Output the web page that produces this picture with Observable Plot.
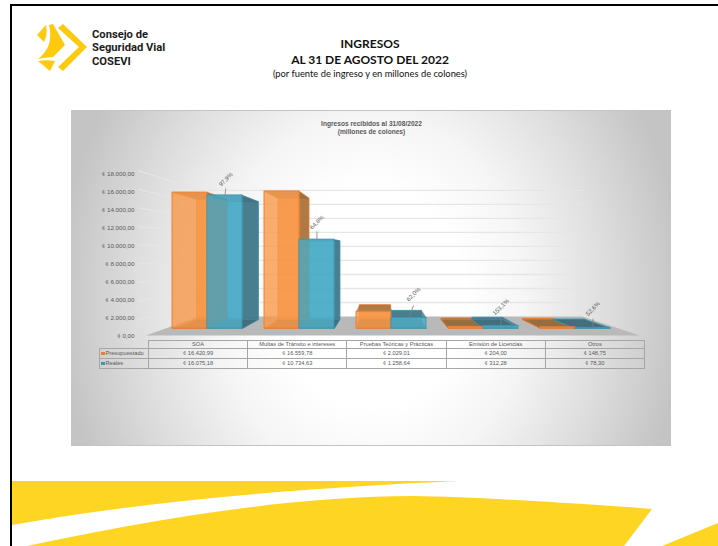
<!DOCTYPE html>
<html lang="es">
<head>
<meta charset="utf-8">
<script src="https://cdn.jsdelivr.net/npm/d3@7"></script>
<script src="https://cdn.jsdelivr.net/npm/@observablehq/plot@0.6"></script>
<style>
html,body{margin:0;padding:0;background:#fff;overflow:hidden}
#page{position:relative;width:718px;height:546px;overflow:hidden;background:#fff}
.abs{position:absolute}
#frameTop{left:10px;top:4px;width:708px;height:2px;background:#000}
#frameLeft{left:10px;top:4px;width:2px;height:542px;background:#000}
#heading{left:170px;width:400px;top:36px;text-align:center;font-family:Lato,"Open Sans",sans-serif;color:#111}
#heading div{position:absolute;left:0;width:400px;white-space:nowrap}
#logoText{left:92px;top:27.5px;font:bold 11.2px/13.5px "Liberation Sans Narrow","Roboto",sans-serif;color:#1c1c1c;white-space:nowrap}
#panel{left:71px;top:110px;width:600px;height:336px;border-top:1px solid #c4c4c4;border-bottom:1px solid #c4c4c4;box-sizing:border-box;
background:radial-gradient(ellipse 52% 110% at 50% 56%,#fff 0%,#fff 30%,#f5f5f5 50%,#dedede 75%,#c4c4c4 100%)}
#chart{left:71px;top:110px;width:600px;height:336px;opacity:.995}
#tbl{left:99px;top:340px;border-collapse:collapse;table-layout:fixed;font:5.7px "Liberation Sans",Arial,sans-serif;color:#595959;opacity:.995}
#tbl td{border:1px solid #a6a6a6;padding:0;text-align:center;box-sizing:border-box;height:10px;white-space:nowrap;overflow:hidden}
#tbl tr:first-child td{height:7.5px}
#tbl td.blank{border:none}
#tbl td.lab{text-align:left;padding-left:1px}
#tbl .key{display:inline-block;width:3.5px;height:3.5px;margin-right:1px;vertical-align:0}
</style>
</head>
<body>
<div id="page">
  <svg class="abs" style="left:0;top:0" width="718" height="546" id="deco">
    <path fill="#FFD524" d="M12 481 L458 481 C330 487 170 497 12 525 Z"/>
    <path fill="#FFD524" d="M27 546 C150 520 290 496 412 496 C480 497 570 503 652 509 L624 546 Z"/>
    <path fill="#FFD524" d="M662 546 L718 523 L718 546 Z"/>
    <path fill="#FFC90E" d="M63 24 L87 47 L63 71 L58 67 L79 47 L58 28 Z"/>
    <path fill="#FFC90E" d="M46 25 L37 35 L44 42 C47 36 47 30 46 25 Z"/>
    <path fill="#FFC90E" d="M49 25 L53 24 L65 45 L53 57 C48 57 43 58 38 59 C47 52 53 42 49 25 Z"/>
    <path fill="#FFC90E" d="M38 61 C44 60 50 60 55 61 L50 71 Z"/>
  </svg>
  <div class="abs" id="frameTop"></div>
  <div class="abs" id="frameLeft"></div>
  <div class="abs" id="logoText">Consejo de<br>Seguridad Vial<br>COSEVI</div>
  <div class="abs" id="heading">
    <div style="top:0;font-weight:700;font-size:12px">INGRESOS</div>
    <div style="top:15.5px;font-weight:700;font-size:12px">AL 31 DE AGOSTO DEL 2022</div>
    <div style="top:31.5px;font-size:9.35px">(por fuente de ingreso y en millones de colones)</div>
  </div>
  <div class="abs" id="panel"></div>
  <div class="abs" id="chart"></div>
  <table class="abs" id="tbl"></table>
</div>
<script>
// ---- data ----
const categories = ["SOA", "Multas de Tránsito e intereses", "Pruebas Teóricas y Prácticas", "Emisión de Licencias", "Otros"];
const presupuestado = [16420.99, 16559.78, 2029.01, 204.00, 148.75];
const reales = [16075.18, 10734.63, 1258.64, 312.28, 78.30];
const porcentajes = ["97,9%", "64,8%", "62,0%", "153,1%", "52,6%"];
const axisTicks = [0, 2000, 4000, 6000, 8000, 10000, 12000, 14000, 16000, 18000];
const seriesNames = ["Presupuestado", "Reales"];
const chartTitle = ["Ingresos recibidos al 31/08/2022", "(millones de colones)"];

const locale = d3.formatLocale({decimal: ",", thousands: ".", grouping: [3], currency: ["", ""]});
const money = v => "¢ " + locale.format(",.2f")(v);

// ---- styling ----
const FONT = '"Liberation Sans", Arial, sans-serif';
const styles = [
  {front: "#f79646", side: "#936736", stroke: "#ed7d31"},
  {front: "#4bacc6", side: "#3c6776", stroke: "#3a97b2"}
];

// ---- simple perspective: data-space points shrink toward a vanishing point ----
const VAN_X = 2.283, VAN_Y = 9417;
const at = (u, v, d) => ({x: u + d * (VAN_X - u), y: v + d * (VAN_Y - v)});
const BAR_DEPTH = 0.114, WALL = 0.154, FLOOR_FRONT = -0.09;
const LEFT = -0.076, RIGHT = 4.85, BAR_W = 0.38;

// faces
const bars = [];
seriesNames.forEach((name, s) => {
  (s === 0 ? presupuestado : reales).forEach((value, i) => {
    bars.push({i, s, value, u1: i + s * BAR_W, u2: i + (s + 1) * BAR_W});
  });
});
const quad = (pts, key) => [...pts, pts[0]].map(p => ({...p, key}));
function facesOf(b) {
  const {u1, u2, value: v} = b, D = BAR_DEPTH, k = `${b.i}-${b.s}`;
  const back = quad([at(u1,0,D), at(u2,0,D), at(u2,v,D), at(u1,v,D)], k + "b");
  const sides = [];
  sides.push(quad([at(u1,v,0), at(u2,v,0), at(u2,v,D), at(u1,v,D)], k + "t"));
  if (u2 < VAN_X) sides.push(quad([at(u2,0,0), at(u2,v,0), at(u2,v,D), at(u2,0,D)], k + "r"));
  if (u1 > VAN_X) sides.push(quad([at(u1,0,0), at(u1,v,0), at(u1,v,D), at(u1,0,D)], k + "l"));
  sides.push(quad([at(u1,0,0), at(u2,0,0), at(u2,0,D), at(u1,0,D)], k + "f"));
  return {back, sides};
}

const floor = quad([at(LEFT,0,FLOOR_FRONT), at(RIGHT,0,FLOOR_FRONT), at(RIGHT,0,WALL), at(LEFT,0,WALL)], "floor");
const gridRows = axisTicks.filter(t => t > 0).flatMap(t => [
  {...at(LEFT, t, FLOOR_FRONT - 0.035), key: t},
  {...at(LEFT, t, WALL), key: t},
  {...at(RIGHT, t, WALL), key: t}
]);

const marks = [
  Plot.line(gridRows, {x: "x", y: "y", z: "key", stroke: "#e6e6e6", strokeWidth: 1.3, curve: "linear"}),
  Plot.line(floor, {x: "x", y: "y", fill: "#b9b9b9", stroke: "none", curve: "linear"})
];

// each bar: back and depth faces, then the front face
bars.forEach(b => {
  const st = styles[b.s], f = facesOf(b);
  marks.push(Plot.line(f.back, {x: "x", y: "y", fill: st.front, fillOpacity: 0.8, stroke: st.stroke, strokeWidth: 0.8, strokeOpacity: 0.7, curve: "linear"}));
  f.sides.forEach(q => marks.push(
    Plot.line(q, {x: "x", y: "y", fill: st.side, fillOpacity: 0.72, stroke: st.stroke, strokeWidth: 0.8, strokeOpacity: 0.7, curve: "linear"})
  ));
});
styles.forEach((st, s) => {
  marks.push(Plot.rect(bars.filter(b => b.s === s), {
    x1: "u1", x2: "u2", y1: () => 0, y2: "value",
    fill: st.front, fillOpacity: 0.78, stroke: st.stroke, strokeWidth: 1, strokeOpacity: 0.95
  }));
});

// data labels above the "Reales" bars, with a leader line
const lift = [850, 1000, 1550, 950, 1100];
const labelLift = [970, 1120, 1910, 1310, 1340];
const lean = [0.01, 0, 0.05, 0, 0];
const realBars = bars.filter(b => b.s === 1);
const mid = b => (b.u1 + b.u2) / 2;
marks.push(
  Plot.link(realBars, {
    x1: mid, y1: "value",
    x2: b => mid(b) + lean[b.i], y2: b => b.value + lift[b.i],
    stroke: "#7f7f7f", strokeWidth: 0.8
  }),
  Plot.text(realBars, {
    x: b => mid(b) + lean[b.i], y: b => b.value + labelLift[b.i],
    text: b => porcentajes[b.i], rotate: -45, dy: -8,
    fontSize: 6, fontFamily: FONT, fill: "#595959"
  }),
  // value axis, on the front edge of the left wall
  Plot.text(axisTicks, {
    x: t => at(LEFT, t, FLOOR_FRONT).x, y: t => at(LEFT, t, FLOOR_FRONT).y,
    text: t => money(t), textAnchor: "end", dx: -11.5, dy: 0.5,
    fontSize: 6.2, fontFamily: FONT, fill: "#595959"
  }),
  // chart title
  Plot.text([chartTitle.join("\n")], {
    frameAnchor: "top", dy: 9.5, text: d => d, lineHeight: 1.25,
    fontSize: 6.6, fontWeight: "bold", fontFamily: FONT, fill: "#595959"
  })
);

const plot = Plot.plot({
  width: 600, height: 336,
  marginTop: 0, marginRight: 0, marginBottom: 0, marginLeft: 0,
  x: {type: "linear", domain: [0, 5], range: [101, 561], axis: null},
  y: {type: "linear", domain: [0, 18000], range: [218, 69], axis: null},
  style: {background: "transparent", overflow: "visible"},
  marks
});
document.getElementById("chart").appendChild(plot);

// data table under the chart
const widths = [49, ...categories.map(() => 99.2)];
const tbl = document.getElementById("tbl");
tbl.style.width = d3.sum(widths) + "px";
tbl.innerHTML =
  "<colgroup>" + widths.map(w => `<col style="width:${w}px">`).join("") + "</colgroup>" +
  `<tr><td class="blank"></td>${categories.map(c => `<td>${c}</td>`).join("")}</tr>` +
  [presupuestado, reales].map((vals, s) =>
    `<tr><td class="lab"><span class="key" style="background:${styles[s].stroke}"></span>${seriesNames[s]}</td>` +
    vals.map(v => `<td>${money(v)}</td>`).join("") + "</tr>"
  ).join("");
</script>
</body>
</html>
